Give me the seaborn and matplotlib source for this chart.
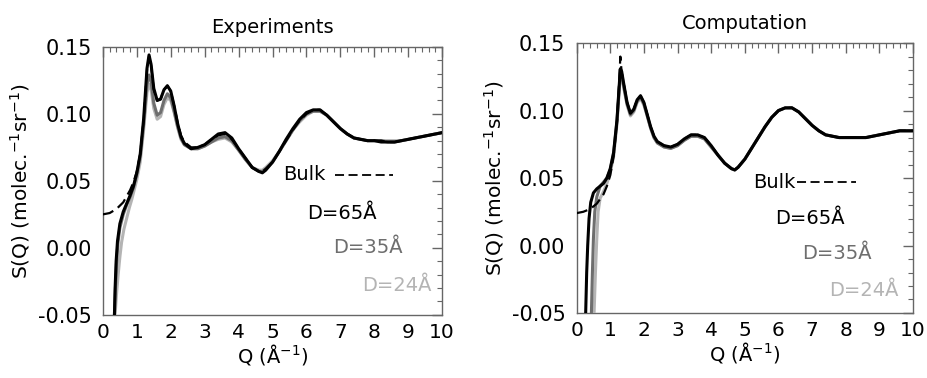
import numpy as np
import pandas as pd
import matplotlib
matplotlib.use("Agg")
import matplotlib.pyplot as plt
from matplotlib.ticker import MultipleLocator, FormatStrFormatter
import seaborn as sns

# ---------------- data ----------------
# Experiments, common high-Q grid
q_exp_hi = [1.0, 1.1, 1.2, 1.3, 1.36, 1.42, 1.5, 1.6, 1.7, 1.8, 1.9, 2.0, 2.1, 2.2, 2.3, 2.4,
            2.6, 2.8, 3.0, 3.2, 3.4, 3.6, 3.8, 4.0, 4.2, 4.4, 4.6, 4.7, 4.8, 5.0, 5.2, 5.4,
            5.6, 5.8, 6.0, 6.2, 6.4, 6.6, 6.8, 7.0, 7.2, 7.4, 7.6, 7.8, 8.0, 8.2, 8.4, 8.6,
            8.8, 9.0, 9.2, 9.4, 9.6, 9.8, 10.0]
s_exp_bulk_hi = [0.057, 0.070, 0.095, 0.133, 0.143, 0.136, 0.118, 0.110, 0.111, 0.118, 0.121, 0.117,
                 0.106, 0.094, 0.084, 0.079, 0.075, 0.075, 0.077, 0.081, 0.084, 0.085, 0.081, 0.074,
                 0.067, 0.060, 0.057, 0.057, 0.059, 0.064, 0.072, 0.080, 0.088, 0.095, 0.100, 0.103,
                 0.103, 0.099, 0.094, 0.089, 0.085, 0.082, 0.081, 0.080, 0.080, 0.080, 0.079, 0.079,
                 0.080, 0.081, 0.082, 0.083, 0.084, 0.085, 0.086]
s_exp_d65_hi = [0.056, 0.070, 0.096, 0.134, 0.144, 0.137, 0.119, 0.110, 0.111, 0.118, 0.121, 0.117,
                0.106, 0.093, 0.083, 0.078, 0.074, 0.075, 0.077, 0.081, 0.085, 0.086, 0.082, 0.074,
                0.067, 0.060, 0.057, 0.056, 0.058, 0.064, 0.072, 0.081, 0.089, 0.096, 0.101, 0.103,
                0.103, 0.099, 0.094, 0.089, 0.085, 0.082, 0.081, 0.080, 0.080, 0.079, 0.079, 0.079,
                0.080, 0.081, 0.082, 0.083, 0.084, 0.085, 0.086]
s_exp_d35_hi = [0.055, 0.068, 0.092, 0.122, 0.129, 0.124, 0.108, 0.099, 0.101, 0.110, 0.115, 0.112,
                0.102, 0.091, 0.082, 0.077, 0.074, 0.074, 0.076, 0.079, 0.082, 0.083, 0.080, 0.073,
                0.066, 0.060, 0.057, 0.057, 0.059, 0.064, 0.072, 0.080, 0.088, 0.095, 0.100, 0.102,
                0.102, 0.099, 0.094, 0.089, 0.085, 0.082, 0.081, 0.080, 0.080, 0.080, 0.079, 0.079,
                0.080, 0.081, 0.082, 0.083, 0.084, 0.085, 0.086]
s_exp_d24_hi = [0.051, 0.064, 0.088, 0.116, 0.122, 0.118, 0.104, 0.096, 0.098, 0.107, 0.112, 0.110,
                0.101, 0.090, 0.081, 0.077, 0.074, 0.074, 0.076, 0.079, 0.081, 0.082, 0.079, 0.073,
                0.066, 0.060, 0.058, 0.058, 0.060, 0.065, 0.072, 0.080, 0.088, 0.094, 0.099, 0.102,
                0.102, 0.099, 0.094, 0.089, 0.085, 0.082, 0.081, 0.080, 0.080, 0.080, 0.080, 0.080,
                0.080, 0.081, 0.082, 0.083, 0.084, 0.085, 0.086]
# Experiments, low-Q parts
q_exp_bulk_lo = [0.0, 0.2, 0.4, 0.6, 0.8, 0.9]
s_exp_bulk_lo = [0.025, 0.026, 0.029, 0.034, 0.043, 0.049]
q_exp_d65_lo = [0.34, 0.36, 0.39, 0.43, 0.5, 0.6, 0.7, 0.8, 0.9]
s_exp_d65_lo = [-0.05, -0.03, -0.01, 0.005, 0.018, 0.027, 0.033, 0.039, 0.046]
q_exp_d35_lo = [0.34, 0.37, 0.40, 0.44, 0.5, 0.6, 0.7, 0.8, 0.9]
s_exp_d35_lo = [-0.05, -0.03, -0.012, 0.003, 0.015, 0.025, 0.032, 0.038, 0.045]
q_exp_d24_lo = [0.36, 0.40, 0.45, 0.50, 0.55, 0.62, 0.70, 0.78, 0.85, 0.92]
s_exp_d24_lo = [-0.05, -0.035, -0.02, -0.007, 0.004, 0.014, 0.022, 0.030, 0.036, 0.043]

# Computation, common high-Q grid
q_cmp_hi = [1.0, 1.1, 1.2, 1.26, 1.3, 1.34, 1.4, 1.5, 1.6, 1.7, 1.8, 1.9, 2.0, 2.1, 2.2, 2.3, 2.4,
            2.6, 2.8, 3.0, 3.2, 3.4, 3.6, 3.8, 4.0, 4.2, 4.4, 4.6, 4.7, 4.8, 5.0, 5.2, 5.4,
            5.6, 5.8, 6.0, 6.2, 6.4, 6.6, 6.8, 7.0, 7.2, 7.4, 7.6, 7.8, 8.0, 8.2, 8.4, 8.6,
            8.8, 9.0, 9.2, 9.4, 9.6, 9.8, 10.0]
s_cmp_bulk_hi = [0.052, 0.066, 0.092, 0.118, 0.140, 0.128, 0.120, 0.106, 0.098, 0.101, 0.108, 0.111,
                 0.106, 0.097, 0.088, 0.081, 0.077, 0.074, 0.073, 0.075, 0.079, 0.082, 0.082, 0.080,
                 0.074, 0.067, 0.061, 0.057, 0.056, 0.058, 0.064, 0.072, 0.080, 0.088, 0.095, 0.100,
                 0.102, 0.102, 0.099, 0.094, 0.089, 0.085, 0.082, 0.081, 0.080, 0.080, 0.080, 0.080,
                 0.080, 0.081, 0.082, 0.083, 0.084, 0.085, 0.085, 0.085]
s_cmp_d65_hi = [0.057, 0.069, 0.093, 0.116, 0.131, 0.129, 0.120, 0.106, 0.098, 0.101, 0.108, 0.111,
                0.106, 0.097, 0.088, 0.081, 0.077, 0.074, 0.073, 0.075, 0.079, 0.082, 0.082, 0.080,
                0.074, 0.067, 0.061, 0.057, 0.056, 0.058, 0.064, 0.072, 0.080, 0.088, 0.095, 0.100,
                0.102, 0.102, 0.099, 0.094, 0.089, 0.085, 0.082, 0.081, 0.080, 0.080, 0.080, 0.080,
                0.080, 0.081, 0.082, 0.083, 0.084, 0.085, 0.085, 0.085]
s_cmp_d35_hi = [0.056, 0.068, 0.092, 0.114, 0.128, 0.127, 0.118, 0.105, 0.097, 0.100, 0.107, 0.110,
                0.105, 0.096, 0.087, 0.080, 0.076, 0.073, 0.072, 0.074, 0.078, 0.081, 0.081, 0.079,
                0.073, 0.067, 0.061, 0.057, 0.056, 0.058, 0.064, 0.072, 0.080, 0.088, 0.095, 0.100,
                0.102, 0.102, 0.099, 0.094, 0.089, 0.085, 0.082, 0.081, 0.080, 0.080, 0.080, 0.080,
                0.080, 0.081, 0.082, 0.083, 0.084, 0.085, 0.085, 0.085]
s_cmp_d24_hi = [0.054, 0.066, 0.090, 0.112, 0.126, 0.125, 0.117, 0.104, 0.096, 0.099, 0.106, 0.109,
                0.104, 0.096, 0.087, 0.080, 0.076, 0.073, 0.072, 0.074, 0.078, 0.081, 0.081, 0.079,
                0.073, 0.067, 0.061, 0.057, 0.056, 0.058, 0.064, 0.072, 0.080, 0.088, 0.095, 0.100,
                0.102, 0.102, 0.099, 0.094, 0.089, 0.085, 0.082, 0.081, 0.080, 0.080, 0.080, 0.080,
                0.080, 0.081, 0.082, 0.083, 0.084, 0.085, 0.085, 0.085]
# Computation, low-Q parts
q_cmp_bulk_lo = [0.0, 0.2, 0.4, 0.6, 0.8, 0.9]
s_cmp_bulk_lo = [0.024, 0.025, 0.027, 0.031, 0.038, 0.044]
q_cmp_d65_lo = [0.27, 0.30, 0.33, 0.37, 0.42, 0.5, 0.6, 0.7, 0.8, 0.9]
s_cmp_d65_lo = [-0.05, -0.02, 0.0, 0.02, 0.032, 0.039, 0.042, 0.044, 0.046, 0.050]
q_cmp_d35_lo = [0.44, 0.47, 0.50, 0.54, 0.6, 0.7, 0.8, 0.9]
s_cmp_d35_lo = [-0.05, -0.02, 0.005, 0.025, 0.036, 0.044, 0.047, 0.050]
q_cmp_d24_lo = [0.52, 0.56, 0.60, 0.64, 0.7, 0.8, 0.9]
s_cmp_d24_lo = [-0.05, -0.02, 0.005, 0.025, 0.035, 0.040, 0.046]

series_names = ["D=24Å", "D=35Å", "D=65Å", "Bulk"]
series_colors = ["#b4b4b4", "#6e6e6e", "#000000", "#000000"]
panel_titles = ["Experiments", "Computation"]
x_label = "Q (Å$^{-1}$)"
y_label = "S(Q) (molec.$^{-1}$sr$^{-1}$)"

# ---------------- build tables ----------------
def frame(q_lo, s_lo, q_hi, s_hi, name):
    return pd.DataFrame({"Q": list(q_lo) + list(q_hi), "S": list(s_lo) + list(s_hi), "series": name})

exp_df = [frame(q_exp_d24_lo, s_exp_d24_lo, q_exp_hi, s_exp_d24_hi, "D=24Å"),
          frame(q_exp_d35_lo, s_exp_d35_lo, q_exp_hi, s_exp_d35_hi, "D=35Å"),
          frame(q_exp_d65_lo, s_exp_d65_lo, q_exp_hi, s_exp_d65_hi, "D=65Å"),
          frame(q_exp_bulk_lo, s_exp_bulk_lo, q_exp_hi, s_exp_bulk_hi, "Bulk")]
cmp_df = [frame(q_cmp_d24_lo, s_cmp_d24_lo, q_cmp_hi, s_cmp_d24_hi, "D=24Å"),
          frame(q_cmp_d35_lo, s_cmp_d35_lo, q_cmp_hi, s_cmp_d35_hi, "D=35Å"),
          frame(q_cmp_d65_lo, s_cmp_d65_lo, q_cmp_hi, s_cmp_d65_hi, "D=65Å"),
          frame(q_cmp_bulk_lo, s_cmp_bulk_lo, q_cmp_hi, s_cmp_bulk_hi, "Bulk")]

# ---------------- plotting ----------------
sns.set_style("white")
plt.rcParams["font.family"] = ["DejaVu Sans"]
plt.rcParams["mathtext.fontset"] = "dejavusans"
plt.rcParams["text.color"] = "black"
plt.rcParams["axes.labelcolor"] = "black"

fig = plt.figure(figsize=(9.27, 3.78), dpi=100)
ax1 = fig.add_axes([0.111, 0.167, 0.366, 0.709])
ax2 = fig.add_axes([0.622, 0.172, 0.363, 0.714])

spine_col = "#666666"
ann = {
    0: {"Bulk": (5.3, 0.0545), "D=65Å": (6.02, 0.026), "D=35Å": (6.78, 0.0), "D=24Å": (7.65, -0.028),
        "dash": (6.84, 8.56)},
    1: {"Bulk": (5.24, 0.047), "D=65Å": (5.89, 0.020), "D=35Å": (6.7, -0.0056), "D=24Å": (7.5, -0.033),
        "dash": (6.55, 8.3)},
}

for i, (ax, dfs) in enumerate(zip([ax1, ax2], [exp_df, cmp_df])):
    for df, name, col in zip(dfs, series_names, series_colors):
        if name == "Bulk":
            sns.lineplot(data=df, x="Q", y="S", ax=ax, color=col, lw=1.6, sort=False,
                         estimator=None, linestyle=(0, (5, 2.5)), zorder=5)
        else:
            sns.lineplot(data=df, x="Q", y="S", ax=ax, color=col, lw=2.2, sort=False,
                         estimator=None, zorder=3)
    ax.set_xlim(0, 10)
    ax.set_ylim(-0.05, 0.15)
    ax.xaxis.set_major_locator(MultipleLocator(1))
    ax.xaxis.set_minor_locator(MultipleLocator(0.2))
    ax.yaxis.set_major_locator(MultipleLocator(0.05))
    ax.yaxis.set_minor_locator(MultipleLocator(0.01))
    ax.yaxis.set_major_formatter(FormatStrFormatter("%.2f"))
    ax.tick_params(which="both", direction="in", top=True, right=True, colors=spine_col,
                   labelcolor="black")
    ax.tick_params(which="major", length=7, width=1.0)
    ax.tick_params(which="minor", length=3.5, width=0.8)
    ax.tick_params(axis="x", which="major", pad=6, labelsize=14.5)
    ax.tick_params(axis="y", which="major", pad=8, labelsize=15)
    for s in ax.spines.values():
        s.set_color(spine_col)
        s.set_linewidth(1.0)
        s.set_visible(True)
    ax.set_xlabel(x_label, fontsize=14, labelpad=0)
    ax.set_ylabel(y_label, fontsize=14.5, labelpad=4)
    ax.set_title(panel_titles[i], fontsize=14, pad=10)

    a = ann[i]
    ax.text(a["Bulk"][0], a["Bulk"][1], "Bulk", fontsize=14, color="black", va="center", ha="left")
    ax.plot(list(a["dash"]), [a["Bulk"][1]] * 2, color="black", lw=1.3, linestyle=(0, (5, 2.5)))
    ax.text(a["D=65Å"][0], a["D=65Å"][1], "D=65Å", fontsize=14, color="black", va="center", ha="left")
    ax.text(a["D=35Å"][0], a["D=35Å"][1], "D=35Å", fontsize=14, color=series_colors[1], va="center", ha="left")
    ax.text(a["D=24Å"][0], a["D=24Å"][1], "D=24Å", fontsize=14, color=series_colors[0], va="center", ha="left")

fig.savefig("out.png", dpi=100)
